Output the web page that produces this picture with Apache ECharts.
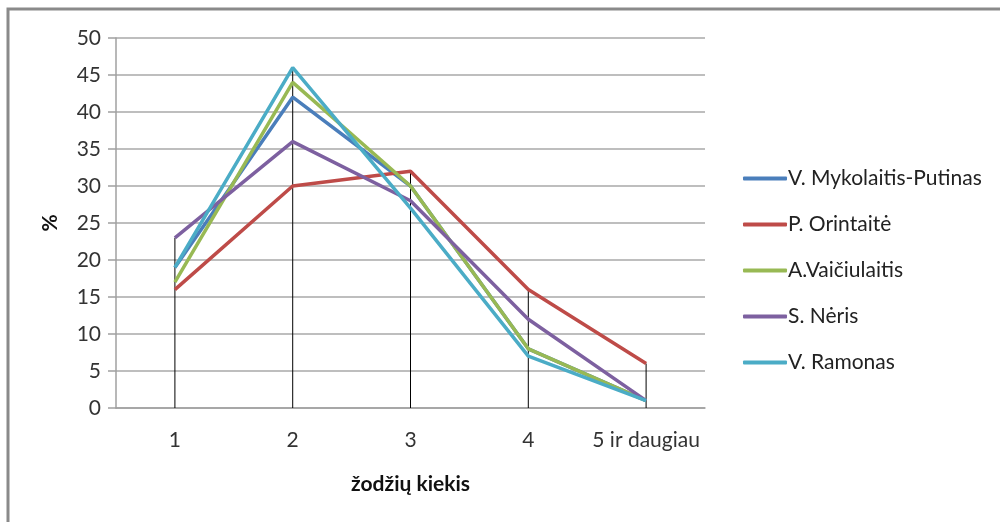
<!DOCTYPE html>
<html>
<head>
<meta charset="utf-8">
<script src="https://cdn.jsdelivr.net/npm/echarts@6/dist/echarts.min.js"></script>
<style>html,body{margin:0;padding:0;background:#fff}#c{width:1000px;height:522px}</style>
</head>
<body>
<div id="c"></div>
<script>
const categories = ['1', '2', '3', '4', '5 ir daugiau'];
const seriesNames = ['V. Mykolaitis-Putinas', 'P. Orintaitė', 'A.Vaičiulaitis', 'S. Nėris', 'V. Ramonas'];
const putinas = [19, 42, 30, 8, 1];
const orintaite = [16, 30, 32, 16, 6];
const vaiciulaitis = [17, 44, 30, 8, 1];
const neris = [23, 36, 28, 12, 1];
const ramonas = [19, 46, 27, 7, 1];
const colors = ['#4a7ebb', '#be4b48', '#98b954', '#7d60a0', '#4bacc6'];
const allData = [putinas, orintaite, vaiciulaitis, neris, ramonas];
const dropLine = categories.map((c, i) => Math.max(...allData.map(d => d[i])));

const chart = echarts.init(document.getElementById('c'));
const font = 'Lato, "Open Sans", sans-serif';
chart.setOption({
  animation: false,
  graphic: [{
    type: 'rect', shape: { x: 8, y: 9, width: 1100, height: 600 },
    style: { fill: 'none', stroke: '#8a8a8a', lineWidth: 3 }, silent: true
  }],
  grid: { left: 116, right: 295, top: 38, bottom: 114 },
  xAxis: {
    type: 'category', data: categories, boundaryGap: true,
    axisLine: { lineStyle: { color: '#a0a0a0', width: 1.5 } },
    axisTick: { show: false },
    axisLabel: { color: '#333', fontSize: 21, fontFamily: font, margin: 22, interval: 0, hideOverlap: false },
    name: 'žodžių kiekis', nameLocation: 'middle', nameGap: 66,
    nameTextStyle: { color: '#111', fontSize: 21, fontWeight: 'bold', fontFamily: font }
  },
  yAxis: {
    type: 'value', min: 0, max: 50, interval: 5,
    axisLine: { show: true, lineStyle: { color: '#a0a0a0', width: 1.5 } },
    axisTick: { show: true, length: 8, lineStyle: { color: '#a0a0a0', width: 1.5 } },
    splitLine: { lineStyle: { color: '#a8a8a8', width: 1.5 } },
    axisLabel: { color: '#333', fontSize: 21, fontFamily: font, margin: 15 },
    name: '%', nameLocation: 'middle', nameGap: 55, nameRotate: 90,
    nameTextStyle: { color: '#111', fontSize: 21, fontWeight: 'bold', fontFamily: font }
  },
  legend: {
    orient: 'vertical', left: 738, top: 163, itemGap: 25, itemWidth: 44, itemHeight: 4,
    icon: 'roundRect', data: seriesNames,
    textStyle: { color: '#222', fontSize: 21, fontFamily: font, padding: [0, 0, 0, -4] }
  },
  series: [
    {
      type: 'bar', data: dropLine, barWidth: 1, silent: true, z: 1,
      itemStyle: { color: '#000' }
    }
  ].concat(seriesNames.map((n, i) => ({
    name: n, type: 'line', data: allData[i], symbol: 'none', z: 2 + i,
    lineStyle: { color: colors[i], width: 3.5 }, itemStyle: { color: colors[i] }
  })))
});
</script>
</body>
</html>
